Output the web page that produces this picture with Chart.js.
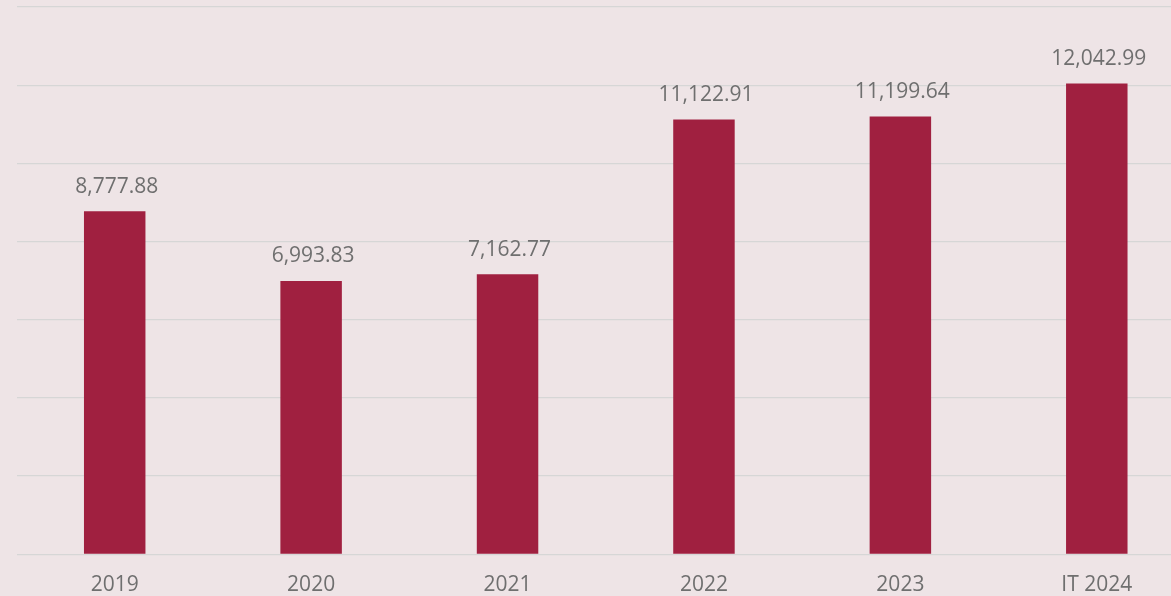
<!DOCTYPE html>
<html>
<head>
<meta charset="utf-8">
<script src="https://cdn.jsdelivr.net/npm/chart.js@4/dist/chart.umd.min.js"></script>
<style>
  html, body { margin: 0; padding: 0; overflow: hidden; width: 1171px; height: 596px; background: #EEE4E6; }
  #wrap { position: absolute; left: 0; top: 0; width: 1200px; height: 620px; }
</style>
</head>
<body>
<div id="wrap"><canvas id="c"></canvas></div>
<script>
const categories = ['2019', '2020', '2021', '2022', '2023', 'IT 2024'];
const values = [8777.88, 6993.83, 7162.77, 11122.91, 11199.64, 12042.99];
const yTicks = [0, 2000, 4000, 6000, 8000, 10000, 12000, 14000];

const textColor = '#6F6F6F';
const fontFamily = '"Open Sans", "Liberation Sans", sans-serif';

const valueLabels = {
  id: 'valueLabels',
  afterDatasetsDraw(chart) {
    const ctx = chart.ctx;
    const meta = chart.getDatasetMeta(0);
    ctx.save();
    ctx.font = '21px ' + fontFamily;
    ctx.fillStyle = textColor;
    ctx.textAlign = 'center';
    ctx.textBaseline = 'alphabetic';
    meta.data.forEach((bar, i) => {
      const v = chart.data.datasets[0].data[i];
      const txt = v.toLocaleString('en-US', { minimumFractionDigits: 2, maximumFractionDigits: 2 });
      ctx.fillText(txt, bar.x + 2, bar.y - 18.5);
    });
    ctx.restore();
  }
};

new Chart(document.getElementById('c'), {
  type: 'bar',
  data: {
    labels: categories,
    datasets: [{
      data: values,
      backgroundColor: '#A02040',
      borderWidth: 0,
      barPercentage: 0.313,
      categoryPercentage: 1.0
    }]
  },
  options: {
    responsive: true,
    maintainAspectRatio: false,
    animation: false,
    devicePixelRatio: 1,
    layout: { padding: { left: 16.5, right: 5, top: 7, bottom: 4.5 } },
    plugins: { legend: { display: false }, tooltip: { enabled: false } },
    scales: {
      x: {
        grid: { display: false, drawTicks: false },
        border: { display: false },
        ticks: { color: textColor, font: { family: fontFamily, size: 21 }, padding: 18 }
      },
      y: {
        min: 0,
        max: 14000,
        afterBuildTicks(scale) { scale.ticks = yTicks.map(v => ({ value: v })); },
        grid: { color: '#D6D6D6', lineWidth: 1.3, drawTicks: false },
        border: { display: false },
        ticks: { display: false }
      }
    }
  },
  plugins: [valueLabels]
});
</script>
</body>
</html>
